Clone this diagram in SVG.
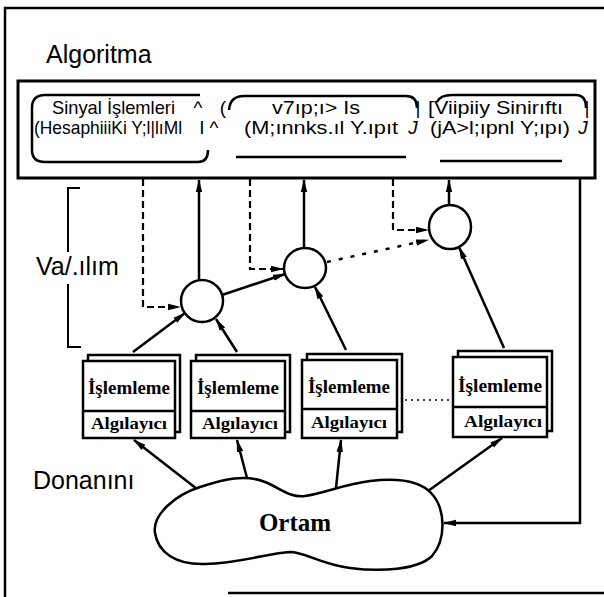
<svg xmlns="http://www.w3.org/2000/svg" width="604" height="597" viewBox="0 0 604 597">
<defs>
<marker id="ah" markerUnits="userSpaceOnUse" markerWidth="13" markerHeight="8" refX="12" refY="4" orient="auto"><path d="M0,0.8 L13,4 L0,7.2 z" fill="#000"/></marker>
</defs>
<style>
.ln{fill:none;stroke:#000;stroke-width:2.5}
.dash{fill:none;stroke:#000;stroke-width:2.2;stroke-dasharray:7 4}
.dot{fill:none;stroke:#000;stroke-width:2.5;stroke-dasharray:4 8}
.lbl{font-family:"Liberation Sans",Arial,sans-serif;font-size:25px;fill:#000}
.alg{font-family:"Liberation Sans",Arial,sans-serif;font-size:19px;fill:#000}
.sn{font-family:"Liberation Serif","Times New Roman",serif;font-weight:bold;fill:#000;text-anchor:middle}
.bx{fill:#fff;stroke:#000;stroke-width:2.5}
.nd{fill:#fff;stroke:#000;stroke-width:2.5}
</style>
<rect width="604" height="597" fill="#fff"/>
<g id="frame" fill="none" stroke="#000">
<path d="M5,597 V8 H604" stroke-width="2.5"/>
<path d="M228,593 H604" stroke-width="2.5"/>
</g>
<text class="lbl" x="46" y="63">Algoritma</text>
<text class="lbl" x="36" y="275">Va/.ılım</text>
<text class="lbl" x="33" y="489">Donanını</text>
<path d="M80,188 H68 V252 M68,284 V347 H81" fill="none" stroke="#000" stroke-width="2"/>
<g id="algorithm">
<rect x="18" y="81" width="577" height="97" fill="none" stroke="#000" stroke-width="3"/>
<path class="ln" d="M200,95 H45 Q32,95 32,108 V150 Q32,162 45,162 H198 Q208,162 208,150"/>
<path class="ln" d="M229,110 Q230,96 244,96 H406 Q417,96 417,108 M236,157 H406"/>
<path class="ln" d="M437,102 Q440,95 452,95 H576 Q586,95 586,108 M440,161 H562"/>
<text class="alg" x="52" y="114" textLength="123" lengthAdjust="spacingAndGlyphs">Sinyal İşlemleri</text>
<text class="alg" x="198" y="114" text-anchor="middle">^</text>
<text class="alg" x="223" y="114" text-anchor="middle">(</text>
<text class="alg" x="272" y="114" textLength="88" lengthAdjust="spacingAndGlyphs">v7ıp;ı&gt; Is</text>
<text class="alg" x="418" y="114" text-anchor="middle">|</text>
<text class="alg" x="428" y="114" textLength="135" lengthAdjust="spacingAndGlyphs">[Viipiiy Sinirıftı</text>
<text class="alg" x="587" y="114" text-anchor="middle">|</text>
<text class="alg" x="34" y="134" textLength="148" lengthAdjust="spacingAndGlyphs">(HesaphiiiKi Y;l|lıMl</text>
<text class="alg" x="202" y="134" text-anchor="middle">I</text>
<text class="alg" x="214" y="134" text-anchor="middle">^</text>
<text class="alg" x="244" y="134" textLength="154" lengthAdjust="spacingAndGlyphs">(M;ınnks.ıl Y.ıpıt</text>
<text class="alg" x="413" y="134" text-anchor="middle" font-style="italic">J</text>
<text class="alg" x="430" y="134" textLength="140" lengthAdjust="spacingAndGlyphs">(jA&gt;l;ıpnl Y;ıpı)</text>
<text class="alg" x="583" y="134" text-anchor="middle" font-style="italic">J</text>
</g>
<g id="connectors">
<path class="ln" d="M199,280 V180" marker-end="url(#ah)"/>
<path class="ln" d="M304,248 V180" marker-end="url(#ah)"/>
<path class="ln" d="M449,206 V180" marker-end="url(#ah)"/>
<path class="ln" d="M222,295 L285,274" marker-end="url(#ah)"/>
<path class="ln" d="M133,352 L185,313" marker-end="url(#ah)"/>
<path class="ln" d="M237,352 L216,319" marker-end="url(#ah)"/>
<path class="ln" d="M346,350 L315,287" marker-end="url(#ah)"/>
<path class="ln" d="M504,348 L459,247" marker-end="url(#ah)"/>
<path class="ln" d="M197,489 L134,440" marker-end="url(#ah)"/>
<path class="ln" d="M247,478 L237,440" marker-end="url(#ah)"/>
<path class="ln" d="M336,488 L341,440" marker-end="url(#ah)"/>
<path class="ln" d="M428,491 L502,438" marker-end="url(#ah)"/>
<path class="dash" d="M143,179 V307 H180" marker-end="url(#ah)"/>
<path class="dash" d="M250,179 V269 H283" marker-end="url(#ah)"/>
<path class="dash" d="M393,179 V230 H428" marker-end="url(#ah)"/>
<path class="dot" d="M327,262 L428,240" marker-end="url(#ah)"/>
<path class="ln" d="M580,179 V523 H444" stroke-width="3" marker-end="url(#ah)"/>
<path d="M405,400 H452" fill="none" stroke="#000" stroke-width="1.5" stroke-dasharray="2 4"/>
</g>
<g id="node1"><ellipse class="nd" cx="202" cy="301" rx="21" ry="21"/></g>
<g id="node2"><ellipse class="nd" cx="305" cy="268" rx="21" ry="20"/></g>
<g id="node3"><ellipse class="nd" cx="450" cy="227" rx="21" ry="22"/></g>
<g id="sensorA">
<rect class="bx" x="88" y="355" width="92" height="77"/>
<rect class="bx" x="83" y="361" width="92" height="77"/>
<line x1="83" y1="411" x2="175" y2="411" stroke="#000" stroke-width="2.5"/>
<text class="sn" x="129" y="394" font-size="19" textLength="82" lengthAdjust="spacingAndGlyphs">İşlemleme</text>
<text class="sn" x="129" y="429" font-size="16" textLength="76" lengthAdjust="spacingAndGlyphs">Algılayıcı</text>
</g>
<g id="sensorB">
<rect class="bx" x="196" y="355" width="94" height="77"/>
<rect class="bx" x="191" y="361" width="94" height="77"/>
<line x1="191" y1="411" x2="285" y2="411" stroke="#000" stroke-width="2.5"/>
<text class="sn" x="238" y="394" font-size="19" textLength="82" lengthAdjust="spacingAndGlyphs">İşlemleme</text>
<text class="sn" x="240" y="429" font-size="16" textLength="76" lengthAdjust="spacingAndGlyphs">Algılayıcı</text>
</g>
<g id="sensorC">
<rect class="bx" x="307" y="354" width="95" height="78"/>
<rect class="bx" x="302" y="360" width="95" height="78"/>
<line x1="302" y1="409" x2="397" y2="409" stroke="#000" stroke-width="2.5"/>
<text class="sn" x="349" y="393" font-size="19" textLength="82" lengthAdjust="spacingAndGlyphs">İşlemleme</text>
<text class="sn" x="349" y="428" font-size="16" textLength="76" lengthAdjust="spacingAndGlyphs">Algılayıcı</text>
</g>
<g id="sensorD">
<rect class="bx" x="458" y="351" width="94" height="80"/>
<rect class="bx" x="453" y="357" width="94" height="80"/>
<line x1="453" y1="407" x2="547" y2="407" stroke="#000" stroke-width="2.5"/>
<text class="sn" x="500" y="392" font-size="19" textLength="84" lengthAdjust="spacingAndGlyphs">İşlemleme</text>
<text class="sn" x="503" y="427" font-size="16" textLength="78" lengthAdjust="spacingAndGlyphs">Algılayıcı</text>
</g>
<g id="ortam">
<path d="M155,533 C152,515 175,495 200,487 C225,479 245,474 265,482 C280,488 290,498 305,496 C325,493 345,484 370,481 C395,478 420,480 432,494 C446,510 446,540 432,556 C418,570 380,572 350,568 C320,564 305,552 290,552 C270,553 240,563 205,564 C175,565 158,552 155,533 Z" fill="#fff" stroke="#000" stroke-width="2.5"/>
<text class="sn" x="295" y="531" font-size="25">Ortam</text>
</g>
</svg>
